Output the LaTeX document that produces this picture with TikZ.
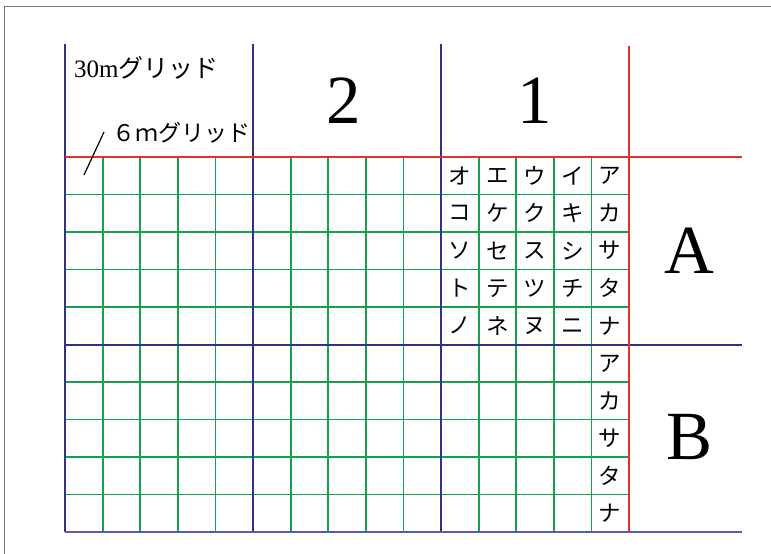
\documentclass[tikz,border=0pt]{standalone}
\usepackage{fontspec}
\setmainfont{Liberation Serif}
\newfontfamily\jp{Noto Sans CJK JP}
\definecolor{gred}{HTML}{E8302A}
\definecolor{ggreen}{HTML}{16A050}
\definecolor{gblue}{HTML}{2E3187}
\definecolor{gbottom}{HTML}{5C5CAA}
\definecolor{gframe}{HTML}{777777}
\tikzset{
  greenline/.style={draw=ggreen, line width=1.8pt},
  blueline/.style={draw=gblue, line width=2pt},
  redline/.style={draw=gred, line width=2pt},
  bottomline/.style={draw=gbottom, line width=1.4pt},
  kana/.style={inner sep=0pt, font=\jp\fontsize{22.5}{22.5}\selectfont},
  bignum/.style={inner sep=0pt, anchor=base, font=\fontsize{69}{69}\selectfont},
  label/.style={inner sep=0pt, anchor=base west}
}
\begin{document}
\begin{tikzpicture}[x=1pt,y=-1pt]
\useasboundingbox (0,0) rectangle (771,554);
% frame
\draw[gframe, line width=1.2pt] (4.7,554) -- (4.7,6.5) -- (771,6.5);
% green grid
\foreach \i in {1,2,3,4,6,7,8,9,11,12,13,14}{
  \draw[greenline] ({65+37.6*\i},157) -- ({65+37.6*\i},532);
}
\foreach \j in {1,2,3,4,6,7,8,9}{
  \draw[greenline] (65,{157+37.5*\j}) -- (629,{157+37.5*\j});
}
% blue verticals
\foreach \x in {65,253,441}{
  \draw[blueline] (\x,44) -- (\x,532);
}
% horizontals
\draw[bottomline] (65,532) -- (742,532);
\draw[blueline] (65,344.5) -- (742,344.5);
\draw[redline] (65,157) -- (742,157);
\draw[redline] (629,46) -- (629,532);
% labels
\node[label, font=\fontsize{25}{25}\selectfont] (g30) at (74,77) {30m{\jp グリッド}};
\node[label, font=\jp\fontsize{23}{23}\selectfont] (g6) at (112,141) {６ｍグリッド};
\coordinate (s1) at (84,175);
\coordinate (s2) at (104,132);
\draw[black, line width=1.2pt] (s1) -- (s2);
\node[bignum] (n2) at (344,123) {2};
\node[bignum] (n1) at (535,123) {1};
\node[bignum] (nA) at (689,273) {A};
\node[bignum] (nB) at (690,459) {B};
% kana in block A
\foreach \r/\row in {0/{オ,エ,ウ,イ,ア},1/{コ,ケ,ク,キ,カ},2/{ソ,セ,ス,シ,サ},3/{ト,テ,ツ,チ,タ},4/{ノ,ネ,ヌ,ニ,ナ}}{
  \foreach \k [count=\c from 0] in \row {
    \node[kana] (ka-\r-\c) at ({65+37.6*(10.5+\c)},{157+37.5*(\r+0.5)}) {\k};
  }
}
% kana in block B
\foreach \k [count=\r from 0] in {ア,カ,サ,タ,ナ}{
  \node[kana] (kb-\r) at ({65+37.6*14.5},{344.5+37.5*(\r+0.5)}) {\k};
}
\end{tikzpicture}
\end{document}
